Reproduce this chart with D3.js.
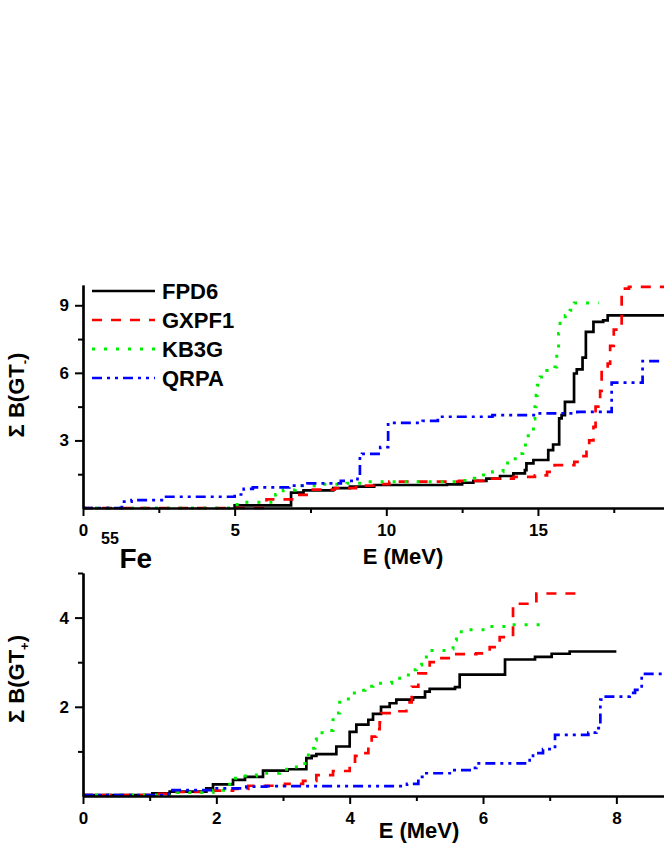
<!DOCTYPE html>
<html>
<head>
<meta charset="utf-8">
<script src="https://cdn.jsdelivr.net/npm/d3@7"></script>
<style>
  html, body { margin: 0; padding: 0; background: #fff; }
  svg { display: block; }
  text { font-family: "Liberation Sans", Arial, sans-serif; font-weight: bold; fill: #000; }
</style>
</head>
<body>
<script>
// ---------- DATA ----------
const seriesNames = ["FPD6", "GXPF1", "KB3G", "QRPA"];
const seriesColors = ["#000000", "#ff0000", "#00ee00", "#0000ff"];

// Top panel: cumulative B(GT-) vs E (MeV)
const topFPD6 = [[5.0,0],[5.0,0.12],[6.86,0.68],[7.27,0.78],[8.25,0.88],[8.8,0.95],[9.6,1.02],[12.0,1.05],[12.5,1.12],[12.87,1.2],[13.3,1.3],[13.75,1.42],[14.19,1.54],[14.57,1.68],[14.62,1.98],[14.85,2.13],[15.34,2.57],[15.5,2.82],[15.7,3.98],[15.78,4.12],[15.89,4.71],[16.19,5.97],[16.28,6.15],[16.47,6.68],[16.58,7.82],[16.83,8.26],[17.15,8.33],[17.3,8.55],[19.2,8.58]];
const topGXPF1 = [[0,0],[6.05,0.38],[6.95,0.58],[7.5,0.82],[8.3,0.88],[9.0,0.99],[9.8,1.06],[10.1,1.17],[12.4,1.2],[13.2,1.3],[14.2,1.38],[14.9,1.45],[15.3,1.6],[15.55,1.9],[16.2,2.05],[16.44,2.3],[16.6,2.7],[16.69,3.0],[16.83,3.6],[16.9,4.5],[17.05,5.2],[17.1,6.1],[17.3,6.41],[17.38,7.2],[17.5,7.92],[17.76,9.74],[18.0,9.82],[19.2,9.85]];
const topKB3G = [[0,0],[5.0,0.15],[5.3,0.25],[6.35,0.6],[6.6,0.8],[7.0,0.99],[7.7,1.05],[8.7,1.1],[9.3,1.17],[12.4,1.22],[12.9,1.32],[13.2,1.46],[13.5,1.61],[13.85,1.8],[14.0,2.0],[14.25,2.42],[14.5,2.8],[14.68,3.3],[14.85,3.95],[14.9,4.5],[14.94,5.0],[14.98,5.45],[15.07,5.82],[15.29,6.1],[15.56,6.26],[15.62,7.0],[15.68,7.75],[15.73,8.2],[15.9,8.55],[16.06,8.78],[16.2,9.1],[17.0,9.1]];
const topQRPA = [[0,0],[1.28,0.28],[1.6,0.35],[2.6,0.5],[5.0,0.6],[5.3,0.85],[5.6,0.92],[6.8,0.99],[7.4,1.09],[8.5,1.2],[9.05,1.4],[9.13,2.3],[9.2,2.4],[9.8,2.7],[10.06,3.78],[11.2,3.87],[11.7,4.05],[13.5,4.12],[15.0,4.2],[16.3,4.27],[17.43,5.57],[18.45,6.52],[19.2,6.55]];

// Bottom panel: cumulative B(GT+) vs E (MeV)
const botFPD6 = [[0,0.02],[1.04,0.06],[1.3,0.1],[1.85,0.17],[1.95,0.26],[2.25,0.36],[2.43,0.43],[2.7,0.57],[3.07,0.6],[3.35,0.85],[3.43,0.9],[3.5,0.94],[3.8,1.11],[4.0,1.44],[4.1,1.6],[4.28,1.71],[4.35,1.84],[4.47,2.0],[4.6,2.08],[4.7,2.16],[4.95,2.21],[5.13,2.34],[5.2,2.4],[5.58,2.44],[5.65,2.72],[6.33,3.06],[6.78,3.12],[7.03,3.19],[7.3,3.24],[8.0,3.24]];
const botGXPF1 = [[0,0.02],[1.05,0.05],[1.35,0.09],[1.95,0.12],[2.25,0.16],[2.48,0.23],[3.03,0.27],[3.3,0.34],[3.5,0.47],[3.75,0.56],[4.0,0.66],[4.08,0.9],[4.13,0.96],[4.28,1.15],[4.33,1.33],[4.4,1.5],[4.45,1.65],[4.48,1.86],[4.68,1.9],[4.85,2.1],[4.93,2.45],[5.03,2.75],[5.2,3.0],[5.35,3.09],[5.6,3.18],[5.9,3.2],[6.1,3.34],[6.25,3.56],[6.45,4.31],[6.8,4.54],[7.52,4.54]];
const botKB3G = [[0,0.02],[1.3,0.08],[1.95,0.13],[2.2,0.4],[2.33,0.45],[2.6,0.51],[2.95,0.6],[3.2,0.73],[3.33,0.88],[3.38,1.07],[3.48,1.25],[3.5,1.42],[3.65,1.47],[3.75,1.71],[3.78,1.86],[3.85,2.1],[3.98,2.31],[4.13,2.37],[4.23,2.46],[4.35,2.53],[4.63,2.64],[4.88,2.83],[5.0,2.94],[5.08,3.07],[5.15,3.26],[5.5,3.3],[5.55,3.5],[5.6,3.68],[5.73,3.73],[6.0,3.8],[6.38,3.84],[6.95,3.84]];
const botQRPA = [[0,0.02],[1.28,0.13],[1.95,0.17],[2.45,0.21],[2.75,0.22],[4.86,0.27],[5.03,0.43],[5.15,0.51],[5.55,0.58],[5.88,0.63],[5.9,0.73],[6.7,0.85],[6.75,0.96],[6.9,1.05],[7.08,1.37],[7.58,1.42],[7.7,1.52],[7.76,2.16],[7.8,2.23],[8.2,2.31],[8.28,2.38],[8.38,2.68],[8.43,2.74],[8.75,2.74]];

// Tick values
const topXMajor = [0, 5, 10, 15];
const topXMinor = [2.5, 7.5, 12.5, 17.5];
const topYMajor = [3, 6, 9];
const topYMinor = [1.5, 4.5, 7.5];
const botXMajor = [0, 2, 4, 6, 8];
const botXMinor = [1, 3, 5, 7];
const botYMajor = [2, 4];
const botYMinor = [1, 3, 5];

// ---------- STYLE ----------
const dashes = [null, "10,9", "3,9", "10,5,3,5,3,5"];
const W = 664, H = 860;

const svg = d3.select("body").append("svg").attr("width", W).attr("height", H);

function drawPanel(cfg) {
  const g = svg.append("g");
  const x = cfg.x, y = cfg.y;
  const line = d3.line().x(d => x(d[0])).y(d => y(d[1])).curve(d3.curveStepAfter);
  cfg.series.forEach((s, i) => {
    g.append("path").datum(s)
      .attr("fill", "none")
      .attr("stroke", seriesColors[i])
      .attr("stroke-width", i === 2 ? 3 : 2.7)
      .attr("stroke-dasharray", dashes[i])
      .attr("stroke-linecap", "butt")
      .attr("d", line);
  });
  g.append("g").attr("transform", `translate(0,${y(0)})`)
    .call(d3.axisBottom(x).tickValues(cfg.xMajor).tickSize(8).tickSizeOuter(0).tickPadding(8).tickFormat(d3.format("d")));
  g.append("g").attr("transform", `translate(0,${y(0)})`)
    .call(d3.axisBottom(x).tickValues(cfg.xMinor).tickSize(5).tickSizeOuter(0).tickFormat(""));
  g.append("g").attr("transform", `translate(${x(0)},0)`)
    .call(d3.axisLeft(y).tickValues(cfg.yMajor).tickSize(8).tickSizeOuter(0).tickPadding(6).tickFormat(d3.format("d")));
  g.append("g").attr("transform", `translate(${x(0)},0)`)
    .call(d3.axisLeft(y).tickValues(cfg.yMinor).tickSize(5).tickSizeOuter(0).tickFormat(""));
  g.selectAll(".domain").attr("stroke", "#000").attr("stroke-width", 2.2);
  g.selectAll(".tick line").attr("stroke", "#000").attr("stroke-width", 2);
  g.selectAll(".tick text").style("font-size", "17px").style("font-family", '"Liberation Sans", Arial, sans-serif').style("font-weight", "bold").attr("fill", "#000");
  return g;
}

// Top panel
const topX = d3.scaleLinear().domain([0, 19.2]).range([83, 83 + 19.2 * 30.33]);
const topY = d3.scaleLinear().domain([0, 9.9]).range([508, 285]);
drawPanel({ x: topX, y: topY, series: [topFPD6, topGXPF1, topKB3G, topQRPA],
  xMajor: topXMajor, xMinor: topXMinor, yMajor: topYMajor, yMinor: topYMinor });

// Bottom panel
const botX = d3.scaleLinear().domain([0, 8.75]).range([83, 83 + 8.75 * 66.67]);
const botY = d3.scaleLinear().domain([0, 5]).range([796, 573]);
drawPanel({ x: botX, y: botY, series: [botFPD6, botGXPF1, botKB3G, botQRPA],
  xMajor: botXMajor, xMinor: botXMinor, yMajor: botYMajor, yMinor: botYMinor });

// Legend
const legY = [291, 320, 349, 378];
const leg = svg.append("g");
seriesNames.forEach((n, i) => {
  leg.append("line").attr("x1", 92).attr("x2", 155).attr("y1", legY[i]).attr("y2", legY[i])
    .attr("stroke", seriesColors[i]).attr("stroke-width", i === 2 ? 3 : 2.7)
    .attr("stroke-dasharray", dashes[i]);
  leg.append("text").attr("x", 162).attr("y", legY[i] + 7.5).style("font-size", "22px").text(n);
});

// Axis titles
svg.append("text").attr("x", 403).attr("y", 564).attr("text-anchor", "middle").style("font-size", "22px").text("E (MeV)");
svg.append("text").attr("x", 419).attr("y", 838).attr("text-anchor", "middle").style("font-size", "22px").text("E (MeV)");

function yTitle(cx, cy, sign) {
  const t = svg.append("text").attr("transform", `translate(${cx},${cy}) rotate(-90)`)
    .attr("text-anchor", "middle").style("font-size", "22px");
  t.append("tspan").text("Σ B(GT");
  t.append("tspan").attr("dy", 5).style("font-size", "13px").text(sign);
  t.append("tspan").attr("dy", -5).text(")");
}
yTitle(24, 395, "-");
yTitle(24, 679, "+");

// Nucleus label
svg.append("text").attr("x", 101).attr("y", 544).style("font-size", "16px").text("55");
svg.append("text").attr("x", 119.5).attr("y", 568).style("font-size", "28px").text("Fe");
</script>
</body>
</html>
